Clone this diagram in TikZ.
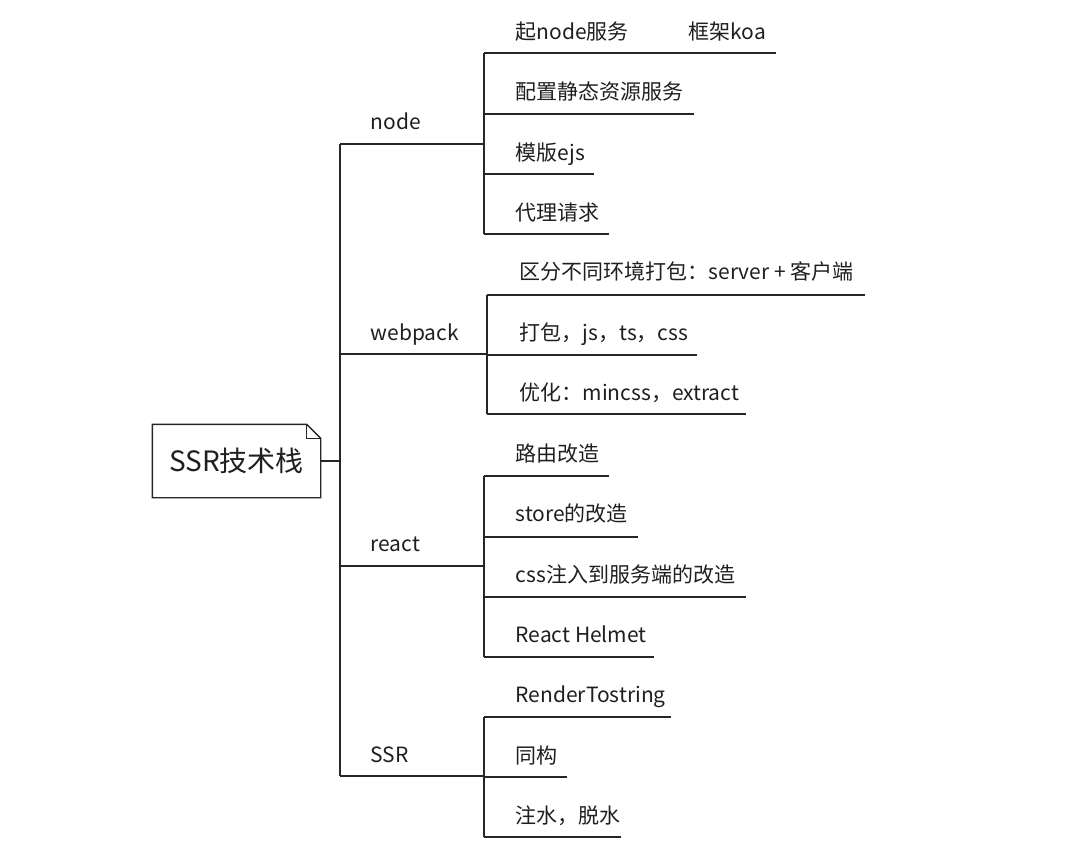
\documentclass[tikz,border=0pt]{standalone}
\usepackage{fontspec}
\setmainfont{Noto Sans CJK SC}
\begin{document}
\begin{tikzpicture}[x=1pt,y=-1pt,line width=1.4pt,draw=black!85,
  lbl/.style={anchor=base west,inner sep=0pt,font=\fontsize{21}{25}\selectfont,text=black!88},
  rootbox/.style={inner sep=0pt,minimum width=167,minimum height=72,font=\fontsize{28}{32}\selectfont,text=black!88}]
\useasboundingbox (0,0) rectangle (1080,847);
% root
\node[rootbox] (root) at (236.5,461) {SSR技术栈};
\draw (root.north west) -- ([xshift=-14pt]root.north east) -- ([yshift=-14pt]root.north east) -- (root.south east) -- (root.south west) -- cycle;
\draw ([xshift=-14pt]root.north east) -- ([xshift=-14pt,yshift=-14pt]root.north east) -- ([yshift=-14pt]root.north east);
\coordinate (trunk) at (340,461);
\draw (root.east) -- (trunk);
\draw (340,144) -- (340,776);
% level 1
\node[lbl] (node) at (370,129) {node};
\node[lbl] (webpack) at (370,340) {webpack};
\node[lbl] (react) at (370,551) {react};
\node[lbl] (ssr) at (370,762) {SSR};
\draw (340,144) -- (484,144);
\draw (340,354) -- (487,354);
\draw (340,566) -- (484,566);
\draw (340,776) -- (484,776);
% node children
\draw (484,53) -- (484,234);
\node[lbl] (n1) at (515,39) {起node服务};
\node[lbl] (n1b) at (688,39) {框架koa};
\node[lbl] (n2) at (515,99) {配置静态资源服务};
\node[lbl] (n3) at (515,160) {模版ejs};
\node[lbl] (n4) at (515,220) {代理请求};
\draw (484,53) -- (776,53);
\draw (484,114) -- (694,114);
\draw (484,174) -- (594,174);
\draw (484,234) -- (609,234);
% webpack children
\draw (487,295) -- (487,414);
\node[lbl] (w1) at (519,279) {区分不同环境打包：server + 客户端};
\node[lbl] (w2) at (519,340) {打包，js，ts，css};
\node[lbl] (w3) at (519,400) {优化：mincss，extract};
\draw (487,295) -- (865,295);
\draw (487,355) -- (697,355);
\draw (487,414) -- (746,414);
% react children
\draw (484,476) -- (484,657);
\node[lbl] (r1) at (515,461) {路由改造};
\node[lbl] (r2) at (515,521) {store的改造};
\node[lbl] (r3) at (515,582) {css注入到服务端的改造};
\node[lbl] (r4) at (515,642) {React Helmet};
\draw (484,476) -- (609,476);
\draw (484,537) -- (638,537);
\draw (484,597) -- (746,597);
\draw (484,657) -- (654,657);
% SSR children
\draw (484,717) -- (484,837);
\node[lbl] (s1) at (515,702) {RenderTostring};
\node[lbl] (s2) at (515,763) {同构};
\node[lbl] (s3) at (515,823) {注水，脱水};
\draw (484,717) -- (671,717);
\draw (484,777) -- (567,777);
\draw (484,837) -- (621,837);
\end{tikzpicture}
\end{document}
